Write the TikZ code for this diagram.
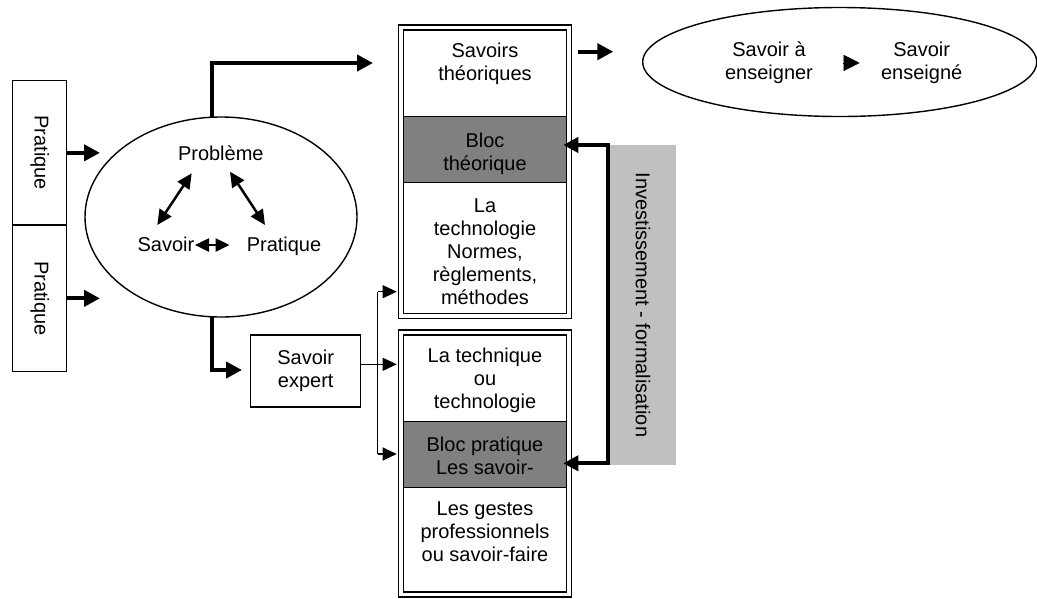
\documentclass[tikz,border=0pt]{standalone}
\usepackage{fontspec}
\setmainfont{Liberation Sans}
\usetikzlibrary{arrows.meta,shapes.geometric}
\definecolor{blocgray}{RGB}{128,128,128}
\definecolor{invgray}{RGB}{192,192,192}
\begin{document}
\begin{tikzpicture}[x=1pt,y=-1pt,
  font=\fontsize{20}{23}\selectfont,
  box/.style={draw, line width=1.4pt, inner sep=0pt, outer sep=0pt, align=center},
  sec/.style={draw, line width=1.5pt, inner sep=0pt, outer sep=0pt, minimum width=163.4pt},
  graysec/.style={sec, fill=blocgray},
  txt/.style={inner sep=0pt, outer sep=0pt, align=center},
  oval/.style={ellipse, draw, line width=1.4pt, inner sep=0pt, outer sep=0pt},
  bigarrow/.style={line width=4pt, -{Triangle[length=16pt,width=16pt]}},
  bracketarrow/.style={line width=4pt, {Triangle[length=15pt,width=15pt]}-{Triangle[length=15pt,width=15pt]}},
  midarrow/.style={line width=2.5pt, {Triangle[length=15pt,width=14pt]}-{Triangle[length=15pt,width=14pt]}},
  shortarrow/.style={line width=2.5pt, {Triangle[length=14pt,width=13pt]}-{Triangle[length=14pt,width=13pt]}},
  thinline/.style={line width=1.2pt},
  thinarrow/.style={line width=1.2pt, -{Triangle[length=14pt,width=13pt]}},
  headonly/.style={line width=0.5pt, -{Triangle[length=16pt,width=16pt]}}
]
\useasboundingbox (0,0) rectangle (1037,598);

% Pratique boxes
\node[box, minimum width=54pt, minimum height=144.3pt,
  label={[rotate=-90, inner sep=0pt, xshift=0pt, yshift=0pt]center:Pratique}] (p1) at (39.7,152.85) {};
\node[box, minimum width=54pt, minimum height=146.7pt,
  label={[rotate=-90, inner sep=0pt]center:Pratique}] (p2) at (39.7,298.35) {};

% Big ellipse
\node[oval, minimum width=272pt, minimum height=200pt] (E) at (221,217) {};
\node[txt, anchor=base] (prob) at (220.8,160.7) {Problème};
\node[txt, anchor=base] (sav) at (166,251.7) {Savoir};
\node[txt, anchor=base] (prat) at (284,251.7) {Pratique};

\coordinate (a1s) at (191.7,173.3); \coordinate (a1e) at (157.3,225);
\coordinate (a2s) at (230,171.7); \coordinate (a2e) at (265,225);
\coordinate (a3s) at (195,245); \coordinate (a3e) at (229.5,245);
\draw[midarrow] (a1s) -- (a1e);
\draw[midarrow] (a2s) -- (a2e);
\draw[shortarrow] (a3s) -- (a3e);

% arrows from Pratique boxes
\draw[bigarrow] (p1.east) -- ++(33.3,0);
\draw[bigarrow] (p2.east) -- ++(33.3,0);

% Column top
\node[sec, minimum height=86.7pt] (s1) at (485,73.35) {};
\node[graysec, minimum height=66pt] (s2) at (485,149.7) {};
\node[sec, minimum height=130.6pt] (s3) at (485,248) {};
\draw[box] ([shift={(-5,-5)}]s1.north west) rectangle ([shift={(5,5)}]s3.south east);
\node[txt, anchor=north] (t1) at (485,43.3) {Savoirs\\théoriques};
\node[txt, anchor=north] (t2) at (485,133.3) {Bloc\\théorique};
\node[txt, anchor=north] (t3) at (485,198.3) {La\\technologie\\Normes,\\règlements,\\méthodes};

% Column bottom
\node[sec, minimum height=86.7pt] (s4) at (485,378.35) {};
\node[graysec, minimum height=65.6pt] (s5) at (485,454.5) {};
\node[sec, minimum height=104.7pt] (s6) at (485,539.65) {};
\draw[box] ([shift={(-5,-5)}]s4.north west) rectangle ([shift={(5,5)}]s6.south east);
\node[txt, anchor=north] (t4) at (485,348.3) {La technique\\ou\\technologie};
\node[txt, anchor=north] (t5) at (485,436.7) {Bloc pratique\\Les savoir-};
\node[txt, anchor=north] (t6) at (485,501.7) {Les gestes\\professionnels\\ou savoir-faire};

% arrows out of the big ellipse
\coordinate (c1) at (373,63);
\coordinate (c2) at (242,370);
\draw[bigarrow] ([xshift=-9pt]E.north) |- (c1);
\draw[bigarrow] ([xshift=-9pt]E.south) |- (c2);

% Savoir expert
\node[box, minimum width=110pt, minimum height=72pt] (se) at (305.7,371) {Savoir\\expert};
\coordinate (bj) at (377.7,364.3);
\coordinate (bt) at (377.7,291.7);
\coordinate (bb) at (377.7,454);
\draw[thinline] (se.east |- bj) -- (bj);
\draw[thinline] (bt) -- (bb);
\draw[thinarrow, shorten >=6.6pt] (bt) -- (bt -| s3.west);
\draw[thinarrow, shorten >=6.6pt] (bj) -- (bj -| s4.west);
\draw[thinarrow, shorten >=6.6pt] (bb) -- (bb -| s5.west);

% Investissement - formalisation
\node[fill=invgray, rotate=-90, minimum width=320pt, minimum height=66pt, inner sep=0pt] (inv) at (643,305) {Investissement - formalisation};
\coordinate (bi1) at (608.3,145);
\coordinate (bi2) at (608.3,463.3);
\draw[bracketarrow, shorten <=-3.4pt, shorten >=-3.4pt] (bi1 -| s2.east) -- (bi1) -- (bi2) -- (bi2 -| s5.east);

% arrow to the right ellipse
\coordinate (ra1) at (578.3,51.7);
\coordinate (ra2) at (613.3,51.7);
\draw[bigarrow] (ra1) -- (ra2);

% Right ellipse
\node[oval, minimum width=394pt, minimum height=109pt] (E2) at (839.7,62) {};
\node[txt, anchor=north] (sa) at (769,42) {Savoir à\\enseigner};
\node[txt, anchor=north] (sen) at (921.7,42) {Savoir\\enseigné};
\draw[headonly] ([xshift=29.7pt]sa.east) -- ([xshift=46.7pt]sa.east);
\end{tikzpicture}
\end{document}
